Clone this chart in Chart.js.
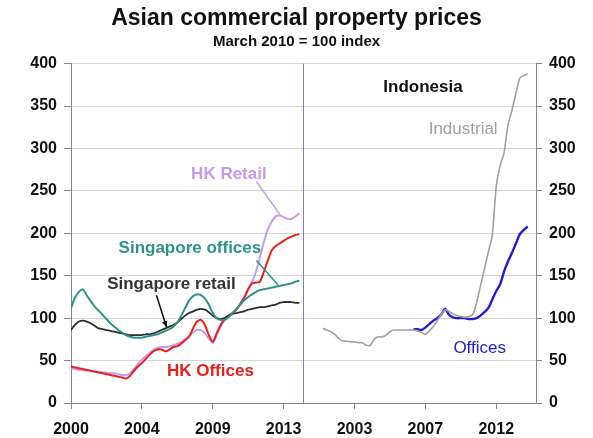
<!DOCTYPE html>
<html>
<head>
<meta charset="utf-8">
<script src="https://cdn.jsdelivr.net/npm/chart.js@4.4.1/dist/chart.umd.min.js"></script>
<style>
  html, body { margin: 0; padding: 0; background: #fff; }
</style>
</head>
<body>
<canvas id="myChart" width="593" height="438"></canvas>
<script>
// Quarterly indices, March 2010 = 100

// Hong Kong / Singapore panel, from 2000 Q1
var hkOffices = [43, 42, 41, 40, 39, 38, 37, 36, 35, 34, 33, 32, 31, 30, 29, 32, 38, 43, 47, 52,
                 57, 61, 63, 63, 61, 63, 66, 67, 70, 74, 78, 88, 96, 98, 92, 80, 72, 82, 92, 99,
                 103, 106, 110, 117, 124, 134, 141, 142, 143, 155, 168, 180, 185, 188, 191, 194, 196, 198, 199];
var hkRetail = [41, 40, 39, 39, 38, 38, 37, 37, 36, 36, 35, 35, 34, 33, 33, 35, 40, 46, 51, 55,
                59, 63, 65, 66, 66, 67, 68, 70, 72, 75, 79, 83, 86, 86, 82, 76, 71, 80, 90, 97,
                101, 105, 110, 117, 125, 134, 143, 155, 172, 190, 205, 214, 220, 221, 219, 217, 217, 220, 224];
var sgOffices = [112, 124, 131, 134, 127, 120, 114, 109, 104, 99, 94, 90, 86, 83, 80, 78, 77, 77, 77, 78,
                 79, 80, 81, 83, 85, 87, 90, 95, 103, 112, 121, 126, 128, 127, 123, 116, 106, 100, 98, 98,
                 101, 106, 111, 116, 121, 125, 128, 131, 133, 134, 135, 136, 137, 138, 139, 140, 141, 143, 144];
var sgRetail = [86, 92, 96, 97, 96, 94, 91, 88, 87, 86, 85, 84, 83, 82, 81, 80, 80, 80, 80, 81,
                81, 82, 84, 86, 88, 90, 92, 95, 99, 103, 106, 108, 110, 111, 110, 107, 103, 100, 99, 100,
                103, 105, 106, 107, 108, 110, 111, 112, 113, 113, 114, 115, 116, 118, 119, 119, 119, 118, 118];
var hkSgStart = [2000, 1];

// Indonesia panel
var idIndustrial = [88, 86, 84, 81, 76, 73, 73, 72, 72, 71, 71, 68, 68, 75, 78, 78, 80, 84, 86, 86,
                    86, 86, 86, 86, 85, 83, 81, 85, 90, 97, 104, 110, 108, 105, 103, 102, 101, 102, 104, 118,
                    138, 158, 178, 198, 255, 280, 295, 328, 345, 365, 383, 386, 388];
var idIndustrialStart = [2001, 1];
var idOffices = [87, 87, 86, 89, 93, 97, 100, 104, 111, 104, 101, 100, 100, 100, 99, 99, 100, 103, 107, 112,
                 122, 132, 140, 155, 167, 177, 188, 199, 204, 208];
var idOfficesStart = [2006, 4];

// x tick labels, one every 18 quarters across both panels
var xTickLabels = ['2000', '2004', '2009', '2013', '2003', '2007', '2012'];
var yTicks = [0, 50, 100, 150, 200, 250, 300, 350, 400];

// the two panels share one x axis, one unit per quarter
var leftPanel = { slot: 0, year: 2000 };
var rightPanel = { slot: 72, year: 2003 };
var dividerSlot = 58.8;
var axisEnd = 118.1;

function toSlot(panel, start) {
  return panel.slot + (start[0] - panel.year) * 4 + (start[1] - 1);
}
function points(values, panel, start) {
  var s = toSlot(panel, start);
  return values.map(function (v, i) { return { x: s + i, y: v }; });
}

var FONT = '"Liberation Sans", Arial, sans-serif';

function line(label, data, color, width) {
  return {
    label: label,
    data: data,
    borderColor: color,
    backgroundColor: color,
    borderWidth: width,
    pointRadius: 0,
    tension: 0.25,
    fill: false
  };
}

// text labels and leader lines, placed in data units
var notes = [
  { text: 'HK Retail', x: 40.1, y: 270, color: '#c49cf0', bold: true },
  { text: 'Singapore offices', x: 30.2, y: 182, color: '#2b9488', bold: true },
  { text: 'Singapore retail', x: 25.5, y: 140, color: '#333333', bold: true },
  { text: 'HK Offices', x: 35.4, y: 37, color: '#e8201c', bold: true },
  { text: 'Indonesia', x: 89.4, y: 372, color: '#111111', bold: true },
  { text: 'Industrial', x: 99.6, y: 322, color: '#a0a0a0', bold: false },
  { text: 'Offices', x: 103.8, y: 64, color: '#2020d0', bold: false }
];
var leaders = [
  { from: [47.1, 261], to: [53.4, 220], color: '#c49cf0', arrow: false },
  { from: [47.1, 168], to: [52.6, 139], color: '#2b9488', arrow: false },
  { from: [21.7, 127], to: [24.3, 89], color: '#111111', arrow: true }
];

var notesPlugin = {
  id: 'notes',
  beforeDatasetsDraw: function (chart) {
    var ctx = chart.ctx, xs = chart.scales.x, a = chart.chartArea;
    var px = xs.getPixelForValue(dividerSlot);
    ctx.save();
    ctx.strokeStyle = '#7b7be0';
    ctx.lineWidth = 1;
    ctx.beginPath();
    ctx.moveTo(Math.round(px) + 0.5, a.top);
    ctx.lineTo(Math.round(px) + 0.5, a.bottom);
    ctx.stroke();
    ctx.restore();
  },
  afterDatasetsDraw: function (chart) {
    var ctx = chart.ctx, xs = chart.scales.x, ys = chart.scales.y;
    ctx.save();
    ctx.textAlign = 'center';
    ctx.textBaseline = 'middle';
    notes.forEach(function (n) {
      ctx.font = (n.bold ? 'bold ' : '') + '17px ' + FONT;
      ctx.fillStyle = n.color;
      ctx.fillText(n.text, xs.getPixelForValue(n.x), ys.getPixelForValue(n.y));
    });
    leaders.forEach(function (l) {
      var x1 = xs.getPixelForValue(l.from[0]), y1 = ys.getPixelForValue(l.from[1]);
      var x2 = xs.getPixelForValue(l.to[0]), y2 = ys.getPixelForValue(l.to[1]);
      ctx.strokeStyle = l.color;
      ctx.fillStyle = l.color;
      ctx.lineWidth = 1.5;
      ctx.beginPath();
      ctx.moveTo(x1, y1);
      ctx.lineTo(x2, y2);
      ctx.stroke();
      if (l.arrow) {
        var ang = Math.atan2(y2 - y1, x2 - x1);
        ctx.beginPath();
        ctx.moveTo(x2, y2);
        ctx.lineTo(x2 - 7 * Math.cos(ang - 0.4), y2 - 7 * Math.sin(ang - 0.4));
        ctx.lineTo(x2 - 7 * Math.cos(ang + 0.4), y2 - 7 * Math.sin(ang + 0.4));
        ctx.closePath();
        ctx.fill();
      }
    });
    ctx.restore();
  }
};

var tickFont = { family: FONT, size: 16, weight: 'bold' };

var ctx = document.getElementById('myChart').getContext('2d');
var myChart = new Chart(ctx, {
  type: 'line',
  data: {
    datasets: [
      line('Singapore offices', points(sgOffices, leftPanel, hkSgStart), '#2b9488', 2),
      line('Singapore retail', points(sgRetail, leftPanel, hkSgStart), '#2e2e2e', 1.8),
      line('HK Offices', points(hkOffices, leftPanel, hkSgStart), '#e8201c', 2),
      line('HK Retail', points(hkRetail, leftPanel, hkSgStart), '#c49cf0', 2),
      line('Industrial', points(idIndustrial, rightPanel, idIndustrialStart), '#a0a0a0', 1.6),
      line('Offices', points(idOffices, rightPanel, idOfficesStart), '#2020d0', 2.4)
    ]
  },
  options: {
    responsive: false,
    animation: false,
    devicePixelRatio: 1,
    layout: { padding: { left: 0, right: 0, top: 0, bottom: 0 } },
    plugins: {
      legend: { display: false },
      tooltip: { enabled: false },
      title: {
        display: true,
        text: 'Asian commercial property prices',
        color: '#111',
        font: { family: FONT, size: 23, weight: 'bold' },
        padding: { top: 5, bottom: 0 }
      },
      subtitle: {
        display: true,
        text: 'March 2010 = 100 index',
        color: '#111',
        font: { family: FONT, size: 15, weight: 'bold' },
        padding: { top: 0, bottom: 13 }
      }
    },
    scales: {
      x: {
        type: 'linear',
        min: 0,
        max: axisEnd,
        afterBuildTicks: function (axis) {
          axis.ticks = xTickLabels.map(function (_, i) { return { value: i * 18 }; });
        },
        afterFit: function (axis) { axis.height = 35; },
        grid: { drawOnChartArea: false, drawTicks: true, tickLength: 6, color: '#888' },
        border: { color: '#888' },
        ticks: {
          autoSkip: false,
          maxRotation: 0,
          padding: 11,
          color: '#111',
          font: tickFont,
          callback: function (v, i) { return xTickLabels[i]; }
        }
      },
      y: {
        position: 'left',
        min: 0,
        max: 400,
        afterBuildTicks: function (axis) {
          axis.ticks = yTicks.map(function (v) { return { value: v }; });
        },
        afterFit: function (axis) { axis.width = 71; },
        grid: { color: '#d6d6d6', tickColor: '#888', tickLength: 7 },
        border: { color: '#888' },
        ticks: { padding: 7, color: '#111', font: tickFont }
      },
      y2: {
        position: 'right',
        min: 0,
        max: 400,
        afterBuildTicks: function (axis) {
          axis.ticks = yTicks.map(function (v) { return { value: v }; });
        },
        afterFit: function (axis) { axis.width = 57; },
        grid: { drawOnChartArea: false, tickColor: '#888', tickLength: 6 },
        border: { color: '#888' },
        ticks: { padding: 7, color: '#111', font: tickFont }
      }
    }
  },
  plugins: [notesPlugin]
});
</script>
</body>
</html>
